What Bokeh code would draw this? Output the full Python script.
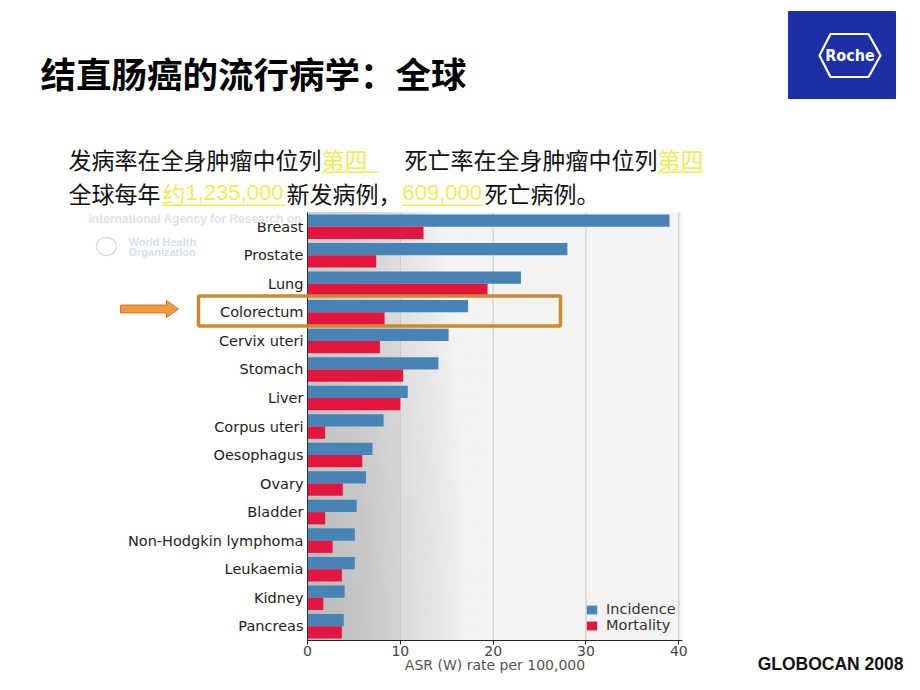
import math
from bokeh.plotting import figure
from bokeh.models import (ColumnDataSource, Range1d, FixedTicker, Label,
                          PolyAnnotation, Legend, LegendItem)
from bokeh.transform import dodge
from bokeh.embed import file_html
from bokeh.resources import INLINE

# ---------------- data ----------------
categories = ["Breast", "Prostate", "Lung", "Colorectum", "Cervix uteri",
              "Stomach", "Liver", "Corpus uteri", "Oesophagus", "Ovary",
              "Bladder", "Non-Hodgkin lymphoma", "Leukaemia", "Kidney",
              "Pancreas"]
incidence = [39.0, 28.0, 23.0, 17.3, 15.2, 14.1, 10.8, 8.2, 7.0, 6.3,
             5.3, 5.1, 5.1, 4.0, 3.9]
mortality = [12.5, 7.4, 19.4, 8.3, 7.8, 10.3, 10.0, 1.9, 5.9, 3.8,
             1.9, 2.7, 3.7, 1.7, 3.7]
x_ticks = [0, 10, 20, 30, 40]
series_names = ["Incidence", "Mortality"]
x_axis_label = "ASR (W) rate per 100,000"

# ---------------- geometry ----------------
W, H = 904, 674
NCAT = len(categories)
XMAX = 40.4
CHART_W, CHART_H = 375, 428
FX0, FY0 = 307, 212          # canvas position of the chart area's top-left
XS = CHART_W / XMAX
YS = CHART_H / NCAT
YTOP, YBOT = -0.5, NCAT - 0.5


def X(px):
    return (px - FX0) / XS


def Y(py):
    return YTOP + (py - FY0) / YS


BLUE = "#4683b7"
RED = "#e2163e"
YELLOW = "#efea5c"
CJK = "Noto Sans CJK SC"

p = figure(width=W, height=H,
           x_range=Range1d(X(0), X(W)), y_range=Range1d(Y(H), Y(0)),
           output_backend="svg", toolbar_location=None, min_border=0,
           background_fill_color="white", border_fill_color="white",
           outline_line_color=None)

# ---------------- chart background shading (decoration) ----------------
plain = p.quad(left=[0], right=[XMAX], top=[YTOP], bottom=[YBOT],
               fill_color="#f3f3f3", line_color=None)
plain.level = "image"
gl, gr, gt, gb, gc = [], [], [], [], []
NX, NY = 50, 30
for i in range(NX):
    x0 = 20.0 * i / NX
    x1 = 20.0 * (i + 1) / NX
    xc = (x0 + x1) / 2
    for j in range(NY):
        y0 = YTOP + NCAT * j / NY
        y1 = YTOP + NCAT * (j + 1) / NY
        v = ((y0 + y1) / 2 - YTOP) / NCAT
        r = math.sqrt((xc / 17.0) ** 2 + ((1 - v) / 1.8) ** 2)
        d = max(0.0, 1 - r) ** 0.7
        if xc > 10:
            d *= 0.75
        g = int(round(243 - 60 * d))
        gl.append(x0); gr.append(x1); gt.append(y0); gb.append(y1)
        gc.append("#%02x%02x%02x" % (g, g, g))
bg = p.quad(left=gl, right=gr, top=gt, bottom=gb, fill_color=gc,
            line_color=gc, line_width=1)
bg.level = "image"

# vertical grid lines at the x ticks, limited to the chart area
grid_x = [t for t in x_ticks if t > 0]
gseg = p.segment(x0=grid_x, x1=grid_x, y0=[YTOP] * len(grid_x),
                 y1=[YBOT] * len(grid_x), line_color="#c6c6c6", line_width=1)
gseg.level = "underlay"
p.xgrid.visible = False
p.ygrid.visible = False

# ---------------- bars ----------------
src = ColumnDataSource(dict(pos=list(range(NCAT)), inc=incidence,
                            mort=mortality))
r1 = p.hbar(y=dodge("pos", -0.215), left=0, right="inc", height=0.43,
            source=src, fill_color=BLUE, line_color=None)
r2 = p.hbar(y=dodge("pos", 0.215), left=0, right="mort", height=0.43,
            source=src, fill_color=RED, line_color=None)

# ---------------- axes ----------------
xa = p.xaxis[0]
xa.fixed_location = YBOT
xa.bounds = (0, XMAX)
xa.ticker = FixedTicker(ticks=x_ticks)
xa.axis_label = x_axis_label
xa.axis_label_text_font = "DejaVu Sans"
xa.axis_label_text_font_size = "14px"
xa.axis_label_text_font_style = "normal"
xa.axis_label_text_color = "#555555"
xa.axis_label_standoff = -2
xa.major_label_text_font = "DejaVu Sans"
xa.major_label_text_font_size = "14px"
xa.major_label_text_color = "#444444"
xa.major_label_standoff = 1
xa.major_tick_in = 0
xa.major_tick_out = 4
xa.major_tick_line_color = "#222222"
xa.minor_tick_line_color = None
xa.axis_line_color = "#222222"

ya = p.yaxis[0]
ya.fixed_location = 0
ya.bounds = (YTOP, YBOT)
ya.ticker = FixedTicker(ticks=list(range(NCAT)))
ya.major_label_overrides = {i: c for i, c in enumerate(categories)}
ya.major_label_text_font = "DejaVu Sans"
ya.major_label_text_font_size = "14.5px"
ya.major_label_text_color = "#222222"
ya.major_label_standoff = 4
ya.major_tick_in = 0
ya.major_tick_out = 0
ya.major_tick_line_color = None
ya.minor_tick_line_color = None
ya.axis_line_color = "#333333"

legend = Legend(items=[LegendItem(label=series_names[0], renderers=[r1]),
                       LegendItem(label=series_names[1], renderers=[r2])],
                location=(585, H - 633), margin=0, padding=4, spacing=0,
                glyph_width=13, glyph_height=11, label_height=16,
                label_standoff=8, label_text_font="DejaVu Sans",
                label_text_font_size="14.5px", label_text_color="#333333",
                background_fill_alpha=0, border_line_color=None)
p.add_layout(legend)

# ---------------- page decorations ----------------
def label(px, py, text, size, font=CJK, color="#111111", style="normal",
          align="left"):
    p.add_layout(Label(x=X(px), y=Y(py), text=text, text_font=font,
                       text_font_size=size, text_color=color,
                       text_font_style=style, text_align=align,
                       text_baseline="middle"))


def poly(pts, fill=None, line=None, lw=1.0):
    p.add_layout(PolyAnnotation(xs=[X(a) for a, b in pts],
                                ys=[Y(b) for a, b in pts],
                                fill_color=fill if fill else "white",
                                fill_alpha=1.0 if fill else 0.0,
                                line_color=line, line_alpha=1.0,
                                line_width=lw))


def underline(x1, x2, py):
    poly([(x1, py), (x2, py), (x2, py + 1.5), (x1, py + 1.5)], fill=YELLOW)


# WHO / IARC watermark
label(88, 218, "International Agency for Research on", "12px",
      font="Liberation Sans", color="#dde3ea", style="bold")
label(128, 241, "World Health", "11px", font="Liberation Sans",
      color="#d6dee8", style="bold")
label(128, 251, "Organization", "11px", font="Liberation Sans",
      color="#d6dee8", style="bold")
circ = [(106 + 10 * math.cos(2 * math.pi * k / 24),
         246 + 9 * math.sin(2 * math.pi * k / 24)) for k in range(24)]
poly(circ, line="#d6dee8", lw=1.5)

# title
label(40, 72, "结直肠癌的流行病学：全球", "35.5px", color="#000000",
      style="bold")

# subtitle lines
label(68, 158, "发病率在全身肿瘤中位列", "23px")
label(321, 158, "第四", "23px", color=YELLOW)
underline(321, 378, 171)
label(404, 158, "死亡率在全身肿瘤中位列", "23px")
label(657, 158, "第四", "23px", color=YELLOW)
underline(657, 703, 171)

label(68, 192, "全球每年", "23px")
label(162, 192, "约", "23px", color=YELLOW)
label(185, 192, "1,235,000", "22px", font="Liberation Sans", color=YELLOW)
underline(162, 285, 204)
label(286, 192, "新发病例，", "23px")
label(402, 192, "609,000", "22px", font="Liberation Sans", color=YELLOW)
underline(402, 483, 204)
label(484, 192, "死亡病例。", "23px")

# highlight box and arrow
poly([(198, 295.5), (560, 295.5), (560, 325.5), (198, 325.5)],
     line="#cb8a2e", lw=3.5)
poly([(120, 304.5), (166, 304.5), (166, 300), (178, 308.5), (166, 317),
      (166, 312.5), (120, 312.5)], fill="#ef9a3f", line="#c47a2e", lw=1)

# Roche logo
poly([(788, 11), (895, 11), (895, 98), (788, 98)], fill="#1b30a5",
     line="#1b30a5", lw=1)
poly([(819, 55), (830, 33.5), (868, 33.5), (880, 55), (868, 76.5),
      (830, 76.5)], line="white", lw=2.2)
label(849.5, 55, "Roche", "16px",
      font="'DejaVu Sans Condensed', 'Liberation Sans', sans-serif",
      color="white", style="bold", align="center")

# source note
label(903, 663, "GLOBOCAN 2008", "17.5px", font="Liberation Sans",
      color="#111111", style="bold", align="right")

open("out.html", "w").write(file_html(p, INLINE))
